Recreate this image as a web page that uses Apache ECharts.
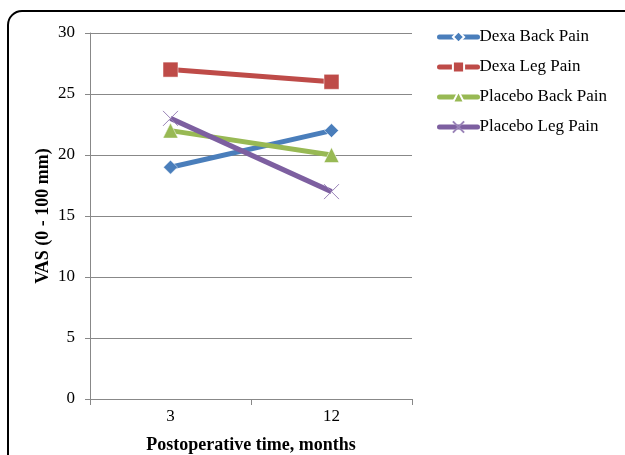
<!DOCTYPE html>
<html><head><meta charset="utf-8">
<script src="https://cdn.jsdelivr.net/npm/echarts@6/dist/echarts.min.js"></script>
<style>html,body{margin:0;padding:0;background:#fff}#c{width:625px;height:455px}</style>
</head><body><div id="c"></div>
<script>
const categories = ['3', '12'];
const dexaBack = [19, 22];
const dexaLeg = [27, 26];
const placeboBack = [22, 20];
const placeboLeg = [23, 17];
const yTicks = [0, 5, 10, 15, 20, 25, 30];

const font = 'Liberation Serif';
const cross = 'path://M0,0 L10,10 M10,0 L0,10';
function mk(name, data, color, symbol, extra) {
  return Object.assign({
    name, type: 'line', data, symbol, symbolSize: 13,
    lineStyle: { color, width: 5 },
    itemStyle: { color, borderColor: '#fff', borderWidth: 0.5 },
    emphasis: { disabled: true }, animation: false
  }, extra || {});
}
const chart = echarts.init(document.getElementById('c'));
chart.setOption({
  backgroundColor: '#fff',
  animation: false,
  graphic: [{ type: 'rect', shape: { x: 8, y: 11, width: 660, height: 480, r: 14 },
    style: { fill: 'none', stroke: '#000', lineWidth: 2 }, z: -1 }],
  grid: { left: 90, top: 33, width: 322, height: 366, containLabel: false, outerBoundsMode: 'none' },
  legend: {
    left: 437, top: 28, padding: 0, orient: 'vertical', itemGap: 12, itemWidth: 38, itemHeight: 14,
    lineStyle: { width: 5, cap: 'round' },
    textStyle: { fontFamily: font, fontSize: 17, lineHeight: 18, color: '#000', padding: [0, 0, 0, -3] },
    data: ['Dexa Back Pain', 'Dexa Leg Pain', 'Placebo Back Pain', 'Placebo Leg Pain']
  },
  xAxis: {
    type: 'category', data: categories, boundaryGap: true,
    axisLine: { lineStyle: { color: '#888', width: 1 } },
    axisTick: { show: true, length: 6, lineStyle: { color: '#888' } },
    axisLabel: { fontFamily: font, fontSize: 17, color: '#000', margin: 9 },
    name: 'Postoperative time, months', nameLocation: 'middle', nameGap: 37, nameMoveOverlap: false,
    nameTextStyle: { fontFamily: font, fontSize: 18, fontWeight: 'bold', color: '#000' }
  },
  yAxis: {
    type: 'value', min: 0, max: 30, interval: 5,
    axisLine: { show: true, lineStyle: { color: '#888', width: 1 } },
    axisTick: { show: true, length: 5, lineStyle: { color: '#888' } },
    splitLine: { lineStyle: { color: '#888', width: 1 } },
    axisLabel: { fontFamily: font, fontSize: 17, color: '#000', margin: 15 },
    name: 'VAS (0 - 100 mm)', nameLocation: 'middle', nameGap: 38, nameMoveOverlap: false,
    nameTextStyle: { fontFamily: font, fontSize: 18, fontWeight: 'bold', color: '#000' }
  },
  series: [
    mk('Dexa Back Pain', dexaBack, '#4a7ebb', 'diamond', { symbolSize: 14 }),
    mk('Dexa Leg Pain', dexaLeg, '#be4b48', 'rect', { symbolSize: 15 }),
    mk('Placebo Back Pain', placeboBack, '#98b954', 'triangle', { symbolSize: 15 }),
    mk('Placebo Leg Pain', placeboLeg, '#7d5fa0', cross, { symbolSize: 15,
      itemStyle: { color: '#7d5fa0', borderColor: '#9a84b8', borderWidth: 1 } })
  ]
});
</script></body></html>
